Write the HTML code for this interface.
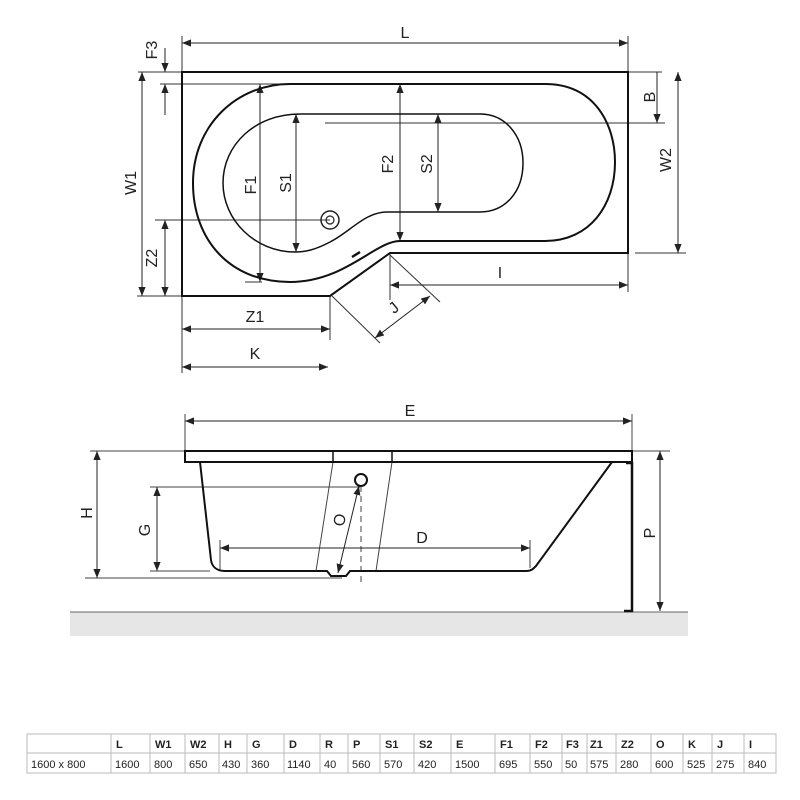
<!DOCTYPE html>
<html><head><meta charset="utf-8"><style>
body{margin:0;background:#fff;width:800px;height:800px;overflow:hidden}
svg{position:absolute;left:0;top:0}
text{font-family:"Liberation Sans",sans-serif;fill:#222}
.t{font-size:11px;font-family:"Liberation Sans",sans-serif;fill:#333}
</style></head><body>
<svg width="800" height="800" viewBox="0 0 800 800">
<defs>
<marker id="a" viewBox="0 0 10 10" refX="10" refY="5" markerWidth="9" markerHeight="9" orient="auto-start-reverse" markerUnits="userSpaceOnUse"><path d="M0,1 L10,5 L0,9 z" fill="#222"/></marker>
</defs>
<g stroke="#333" stroke-width="1" fill="none">
<!-- top view extension lines -->
<line x1="182" y1="36" x2="182" y2="72"/><line x1="628" y1="36" x2="628" y2="72"/>
<line x1="138" y1="72" x2="182" y2="72"/><line x1="628" y1="72" x2="662" y2="72"/>
<line x1="160" y1="84" x2="290" y2="84"/>
<line x1="325" y1="123" x2="665" y2="123"/>
<line x1="155" y1="220" x2="330" y2="220"/>
<line x1="245" y1="282" x2="262" y2="282"/>
<line x1="137" y1="296" x2="182" y2="296"/>
<line x1="635" y1="253" x2="686" y2="253"/>
<line x1="182" y1="296" x2="182" y2="373"/><line x1="330" y1="296" x2="330" y2="340"/>
<line x1="390" y1="253" x2="390" y2="300"/><line x1="628" y1="253" x2="628" y2="292"/>
<line x1="332" y1="296" x2="380" y2="343"/><line x1="390" y1="255" x2="440" y2="302"/>
</g>
<g stroke="#222" stroke-width="1" fill="none" marker-start="url(#a)" marker-end="url(#a)">
<line x1="182" y1="43" x2="628" y2="43"/>
<line x1="142" y1="72" x2="142" y2="296"/>
<line x1="165" y1="220" x2="165" y2="296"/>
<line x1="260" y1="84" x2="260" y2="282"/>
<line x1="296" y1="114" x2="296" y2="252"/>
<line x1="400" y1="84" x2="400" y2="241"/>
<line x1="438" y1="114" x2="438" y2="212"/>
<line x1="678" y1="72" x2="678" y2="253"/>
<line x1="390" y1="285" x2="628" y2="285"/>
<line x1="375" y1="338" x2="430" y2="296"/>
<line x1="182" y1="329" x2="330" y2="329"/>
<line x1="182" y1="367" x2="328" y2="367"/>
</g>
<g stroke="#222" stroke-width="1" fill="none">
<line x1="165" y1="48" x2="165" y2="72" marker-end="url(#a)"/>
<line x1="165" y1="115" x2="165" y2="84" marker-end="url(#a)"/>
<line x1="657" y1="72" x2="657" y2="123" marker-end="url(#a)"/>
</g>
<!-- top view shapes -->
<path d="M182,72 L628,72 L628,253 L390,253 L330,296 L182,296 Z" fill="none" stroke="#111" stroke-width="2"/>
<path d="M290,84 L545,84 C595,84 615,125 615,162 C615,205 590,241 545,241 L400,241 C375,241 345,282 290,282 C230,282 193,240 193,183 C193,125 237,84 290,84 Z" fill="none" stroke="#111" stroke-width="2"/>
<path d="M300,114 L480,114 C505,114 523,135 523,163 C523,192 505,212 480,212 L387,212 C365,212 350,232 330,242 C315,250 305,252 295,252 C255,252 223,220 223,183 C223,145 255,114 300,114 Z" fill="none" stroke="#111" stroke-width="1.5"/>
<circle cx="330" cy="220" r="9" fill="none" stroke="#222" stroke-width="1.5"/>
<circle cx="330" cy="220" r="4" fill="none" stroke="#222" stroke-width="1.2"/>
<line x1="352" y1="257" x2="360" y2="252" stroke="#111" stroke-width="2.5"/>
<!-- top labels -->
<g font-size="16">
<text x="405" y="38" text-anchor="middle">L</text>
<text x="650" y="97" text-anchor="middle" transform="rotate(-90 650 97)" dy="5">B</text>
<text x="152" y="50" text-anchor="middle" transform="rotate(-90 152 50)" dy="5">F3</text>
<text x="131" y="183" text-anchor="middle" transform="rotate(-90 131 183)" dy="5">W1</text>
<text x="152" y="258" text-anchor="middle" transform="rotate(-90 152 258)" dy="5">Z2</text>
<text x="251" y="185" text-anchor="middle" transform="rotate(-90 251 185)" dy="5">F1</text>
<text x="286" y="183" text-anchor="middle" transform="rotate(-90 286 183)" dy="5">S1</text>
<text x="388" y="164" text-anchor="middle" transform="rotate(-90 388 164)" dy="5">F2</text>
<text x="427" y="164" text-anchor="middle" transform="rotate(-90 427 164)" dy="5">S2</text>
<text x="666" y="160" text-anchor="middle" transform="rotate(-90 666 160)" dy="5">W2</text>
<text x="500" y="278" text-anchor="middle">I</text>
<text x="394" y="313" text-anchor="middle" transform="rotate(-40 394 308)">J</text>
<text x="255" y="322" text-anchor="middle">Z1</text>
<text x="255" y="359" text-anchor="middle">K</text>
<!-- side labels -->
<text x="410" y="416" text-anchor="middle">E</text>
<text x="87" y="513" text-anchor="middle" transform="rotate(-90 87 513)" dy="5">H</text>
<text x="145" y="530" text-anchor="middle" transform="rotate(-90 145 530)" dy="5">G</text>
<text x="340" y="520" text-anchor="middle" transform="rotate(-80 340 520)" dy="5">O</text>
<text x="422" y="543" text-anchor="middle">D</text>
<text x="650" y="533" text-anchor="middle" transform="rotate(-90 650 533)" dy="5">P</text>
</g>
<!-- side view -->
<rect x="70" y="612" width="618" height="24" fill="#e6e6e6"/>
<line x1="70" y1="612" x2="688" y2="612" stroke="#666" stroke-width="1"/>
<g stroke="#444" stroke-width="1" fill="none">
<line x1="185" y1="414" x2="185" y2="451"/><line x1="632" y1="414" x2="632" y2="451"/>
<line x1="90" y1="451" x2="185" y2="451"/><line x1="632" y1="451" x2="670" y2="451"/>
<line x1="150" y1="487" x2="360" y2="487"/>
<line x1="150" y1="571" x2="210" y2="571"/>
<line x1="85" y1="578" x2="342" y2="578"/>
<line x1="220" y1="540" x2="220" y2="571"/><line x1="530" y1="540" x2="530" y2="568"/>
<line x1="333" y1="462" x2="316" y2="571"/><line x1="392" y1="462" x2="376" y2="571"/>
<line x1="361" y1="486" x2="361" y2="584" stroke-dasharray="6,4"/>
</g>
<g stroke="#222" stroke-width="1" fill="none" marker-start="url(#a)" marker-end="url(#a)">
<line x1="185" y1="421" x2="632" y2="421"/>
<line x1="97" y1="451" x2="97" y2="578"/>
<line x1="157" y1="487" x2="157" y2="571"/>
<line x1="220" y1="548" x2="530" y2="548"/>
<line x1="660" y1="451" x2="660" y2="611"/>
<line x1="338" y1="573" x2="359" y2="486"/>
</g>
<rect x="185" y="451" width="447" height="11" fill="#fff" stroke="#111" stroke-width="2"/>
<line x1="333" y1="451" x2="333" y2="462" stroke="#111" stroke-width="1.5"/>
<line x1="392" y1="451" x2="392" y2="462" stroke="#111" stroke-width="1.5"/>
<path d="M200,462 L211,560 C212,567 217,571 225,571 L327,571 L331,576 L346,576 L350,571 L527,571 C531,571 533,569 536,566 L612,462" fill="none" stroke="#111" stroke-width="2"/>
<circle cx="361" cy="480" r="6" fill="#fff" stroke="#111" stroke-width="2"/>
<path d="M626,463 L632,463 L632,611 L624,611" fill="none" stroke="#111" stroke-width="2.5"/>
<!-- table -->
<g stroke="#bbb" stroke-width="1">
<rect x="27" y="734" width="749" height="39" fill="none"/>
<line x1="27" y1="753" x2="776" y2="753"/>
<line x1="111" y1="734" x2="111" y2="773"/><line x1="150" y1="734" x2="150" y2="773"/>
<line x1="185" y1="734" x2="185" y2="773"/><line x1="219" y1="734" x2="219" y2="773"/>
<line x1="247" y1="734" x2="247" y2="773"/><line x1="284" y1="734" x2="284" y2="773"/>
<line x1="320" y1="734" x2="320" y2="773"/><line x1="348" y1="734" x2="348" y2="773"/>
<line x1="380" y1="734" x2="380" y2="773"/><line x1="414" y1="734" x2="414" y2="773"/>
<line x1="451" y1="734" x2="451" y2="773"/><line x1="495" y1="734" x2="495" y2="773"/>
<line x1="530" y1="734" x2="530" y2="773"/><line x1="562" y1="734" x2="562" y2="773"/>
<line x1="587" y1="734" x2="587" y2="773"/><line x1="616" y1="734" x2="616" y2="773"/>
<line x1="651" y1="734" x2="651" y2="773"/><line x1="683" y1="734" x2="683" y2="773"/>
<line x1="712" y1="734" x2="712" y2="773"/><line x1="744" y1="734" x2="744" y2="773"/>
</g>
<g class="t" font-weight="bold">
<text x="116" y="748">L</text><text x="155" y="748">W1</text><text x="190" y="748">W2</text><text x="224" y="748">H</text><text x="252" y="748">G</text><text x="289" y="748">D</text><text x="325" y="748">R</text><text x="353" y="748">P</text><text x="385" y="748">S1</text><text x="419" y="748">S2</text><text x="456" y="748">E</text><text x="500" y="748">F1</text><text x="535" y="748">F2</text><text x="566" y="748">F3</text><text x="590" y="748">Z1</text><text x="621" y="748">Z2</text><text x="656" y="748">O</text><text x="688" y="748">K</text><text x="717" y="748">J</text><text x="749" y="748">I</text>
</g>
<g class="t">
<text x="31" y="768">1600 x 800</text>
<text x="115" y="768">1600</text><text x="154" y="768">800</text><text x="189" y="768">650</text><text x="222" y="768">430</text><text x="251" y="768">360</text><text x="287" y="768">1140</text><text x="324" y="768">40</text><text x="352" y="768">560</text><text x="384" y="768">570</text><text x="418" y="768">420</text><text x="455" y="768">1500</text><text x="499" y="768">695</text><text x="534" y="768">550</text><text x="565" y="768">50</text><text x="590" y="768">575</text><text x="620" y="768">280</text><text x="655" y="768">600</text><text x="687" y="768">525</text><text x="716" y="768">275</text><text x="748" y="768">840</text>
</g>
</svg>
</body></html>
